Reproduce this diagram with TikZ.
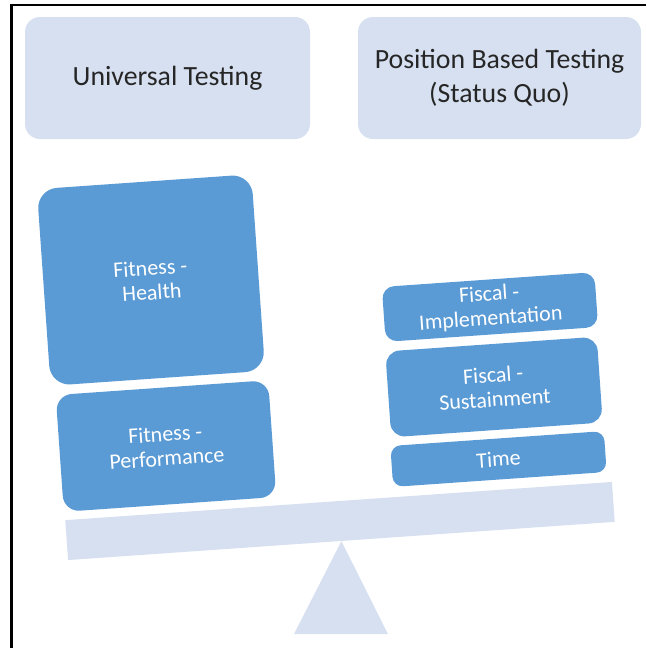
\documentclass[tikz,border=0pt]{standalone}
\usepackage{fontspec}
\setmainfont{Carlito}
\usetikzlibrary{positioning}
\definecolor{paleblue}{RGB}{214,224,240}
\definecolor{boxblue}{RGB}{91,155,213}
\definecolor{titlegray}{RGB}{38,38,38}

\begin{document}
\begin{tikzpicture}[x=1pt, y=-1pt,
        header/.style = {fill=paleblue, rounded corners=15pt, minimum width=285pt, minimum height=122pt, align=center, text=titlegray, font=\fontsize{27.8}{34}\selectfont},
        weight/.style = {fill=boxblue, rotate=4, rounded corners=12pt, minimum width=213pt, inner sep=0pt, align=center, text=white, font=\fontsize{22}{24.5}\selectfont},
        plank/.style  = {fill=paleblue, rotate=4, minimum width=548pt, minimum height=40pt, inner sep=0pt},
        frame/.style  = {line width=2.5pt, black}]
        
        \useasboundingbox (0,0) rectangle (646,648);
        
        % frame, only top and left edges show
        \draw[frame] (646,5) -- (11.5,5) -- (11.5,648);
        
        % the two sides being weighed
        \node[header] (univ) at (167.5,78) {Universal Testing};
        \node[header, minimum width=283pt] (pos) at (499.5,78) {Position Based Testing\\(Status Quo)};
        
        % weights on the left pan
        \node[weight, minimum width=215pt, minimum height=197pt, rounded corners=20pt] (health) at (151,280) {Fitness -\\Health};
        \node[weight, minimum height=117pt, rounded corners=16pt] (perf) at (166,446) {Fitness -\\Performance};
        
        % weights on the right pan
        \node[weight, minimum height=55pt] (impl) at (490,307) {Fiscal -\\Implementation};
        \node[weight, minimum width=212pt, minimum height=86pt, rounded corners=14pt] (sust) at (494,387) {Fiscal -\\Sustainment};
        \node[weight, minimum width=214pt, minimum height=41pt, rounded corners=10pt] (time) at (498.5,459) {Time};
        
        % the seesaw
        \node[plank] (beam) at (340,521) {};
        \coordinate (baseL) at (294,634);
        \coordinate (baseR) at (388,634);
        \fill[paleblue] (beam.south) -- (baseL) -- (baseR) -- cycle;
        
    \end{tikzpicture}
\end{document}
